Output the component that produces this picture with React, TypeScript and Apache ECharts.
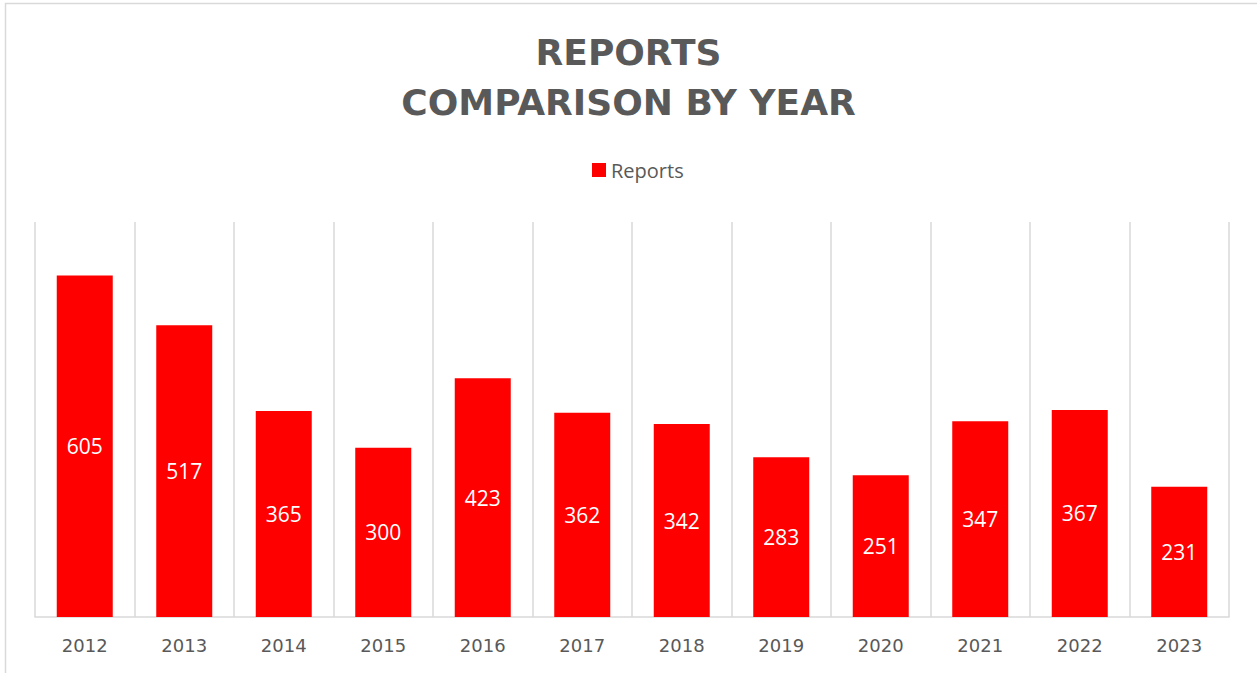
import React, { useEffect, useRef } from "react";
import * as echarts from "echarts";

const years = ["2012", "2013", "2014", "2015", "2016", "2017", "2018", "2019", "2020", "2021", "2022", "2023"];
const reports = [605, 517, 365, 300, 423, 362, 342, 283, 251, 347, 367, 231];
const titleText = "REPORTS\nCOMPARISON BY YEAR";
const seriesName = "Reports";

export default function App() {
  const ref = useRef<HTMLDivElement>(null);
  useEffect(() => {
    if (!ref.current) return;
    const chart = echarts.init(ref.current, undefined, { renderer: "svg" });
    chart.setOption({
      animation: false,
      backgroundColor: "#ffffff",
      title: {
        text: titleText,
        left: "center",
        top: 22,
        textStyle: {
          fontFamily: "DejaVu Sans",
          fontWeight: "bold",
          fontSize: 36,
          color: "#595959",
          lineHeight: 50,
        },
      },
      legend: {
        top: 155,
        left: 587,
        itemWidth: 14,
        itemHeight: 14,
        itemGap: 6,
        icon: "rect",
        textStyle: { fontFamily: "Open Sans", fontSize: 20, color: "#595959" },
        data: [seriesName],
      },
      graphic: [
        {
          type: "rect",
          shape: { x: 5.5, y: 3.5, width: 1300, height: 700 },
          style: { fill: "none", stroke: "#d9d9d9", lineWidth: 1.5 },
          silent: true,
        },
      ],
      grid: { left: 35, right: 28, top: 222, bottom: 56, containLabel: false },
      xAxis: {
        type: "category",
        data: years,
        axisLine: { show: true, lineStyle: { color: "#d9d9d9", width: 1.5 } },
        axisTick: { show: false },
        splitLine: { show: true, lineStyle: { color: "#d9d9d9", width: 1.5 } },
        axisLabel: {
          fontFamily: "DejaVu Sans",
          fontSize: 18,
          color: "#595959",
          margin: 19,
        },
      },
      yAxis: {
        type: "value",
        min: 0,
        max: 700,
        show: false,
        splitLine: { show: false },
      },
      series: [
        {
          name: seriesName,
          type: "bar",
          data: reports,
          barWidth: 56,
          itemStyle: { color: "#ff0000" },
          label: {
            show: true,
            position: "inside",
            color: "#ffffff",
            fontFamily: "Open Sans",
            fontSize: 21,
          },
        },
      ],
    });
    return () => chart.dispose();
  }, []);
  return (
    <div
      ref={ref}
      style={{ position: "fixed", left: 0, top: 0, width: 1257, height: 673 }}
    />
  );
}
